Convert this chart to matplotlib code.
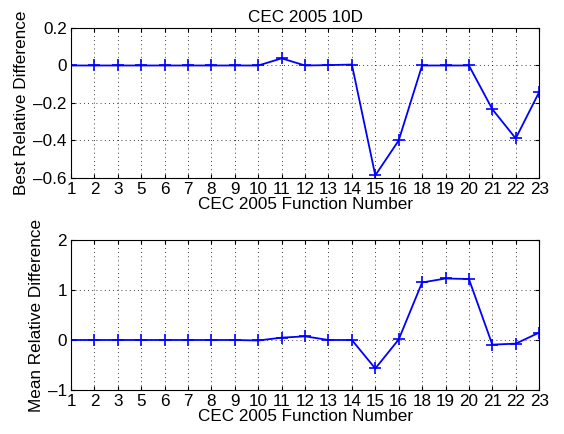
import numpy as np
import matplotlib
matplotlib.use("Agg")
import matplotlib.pyplot as plt

plt.rcParams['font.family'] = ['Liberation Sans', 'DejaVu Sans']
plt.rcParams['font.size'] = 12.3

func_numbers = [1, 2, 3, 5, 6, 7, 8, 9, 10, 11, 12, 13, 14, 15, 16, 18, 19, 20, 21, 22, 23]
best_diff = [0, 0, 0, 0, 0, 0, 0, 0, 0, 0.038, 0, 0.002, 0.005, -0.586, -0.40,
             0, 0, 0, -0.233, -0.389, -0.142]
mean_diff = [0, 0, 0, 0, 0, 0, 0, 0, -0.01, 0.047, 0.073, 0, 0, -0.57, 0.01,
             1.15, 1.23, 1.22, -0.093, -0.073, 0.147]

x = np.arange(1, len(func_numbers) + 1)

fig = plt.figure(figsize=(5.64, 4.34), dpi=100)
ax1 = fig.add_axes([0.1259, 0.5899, 0.830, 0.3456])
ax2 = fig.add_axes([0.1259, 0.1014, 0.830, 0.3456])


def style(ax, y, ylim, yticks, ylabel):
    ax.plot(x, y, color='blue', marker='+', markersize=8, linewidth=1.3, markeredgewidth=1.2)
    ax.set_xlim(1, len(func_numbers))
    ax.set_ylim(*ylim)
    ax.set_xticks(x)
    ax.set_xticklabels([str(f) for f in func_numbers])
    ax.set_yticks(yticks)
    ax.set_yticklabels([('%g' % t).replace('-', '\u2013') for t in yticks])
    ax.tick_params(direction='in', length=3, top=True, right=True, pad=3)
    ax.grid(True, color='black', linestyle=(0, (1, 4)), linewidth=0.6)
    ax.set_xlabel('CEC 2005 Function Number', labelpad=0)
    ax.set_ylabel(ylabel, labelpad=3)
    for s in ax.spines.values():
        s.set_linewidth(0.8)


style(ax1, best_diff, (-0.6, 0.2), [-0.6, -0.4, -0.2, 0, 0.2], 'Best Relative Difference')
ax1.set_title('CEC 2005 10D', fontsize=12.3, pad=4)
style(ax2, mean_diff, (-1, 2), [-1, 0, 1, 2], 'Mean Relative Difference')

fig.savefig('out.png', dpi=100)
